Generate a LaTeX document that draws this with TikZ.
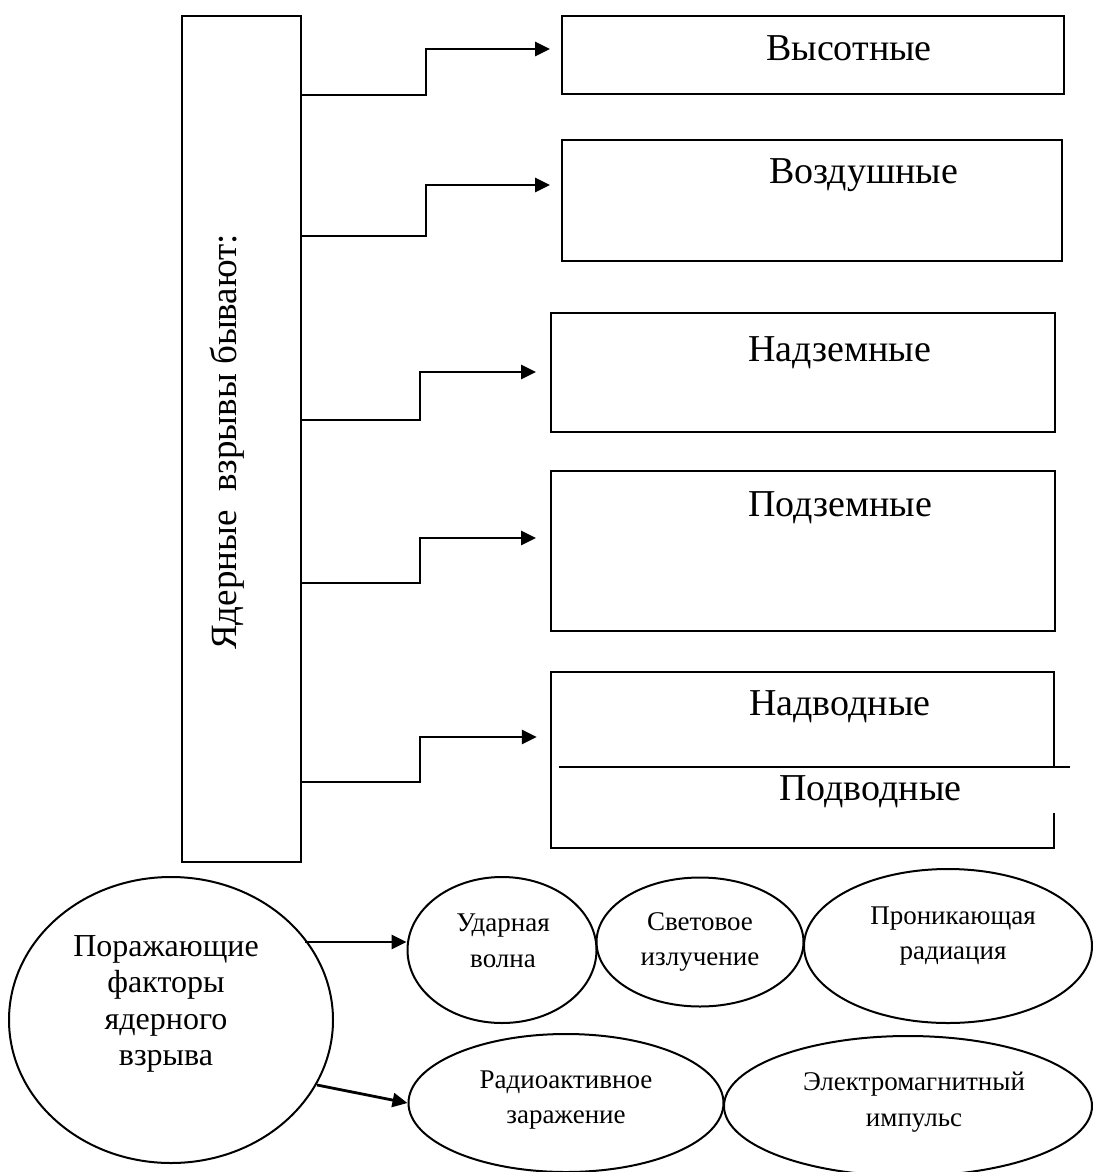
\documentclass[tikz,border=0pt]{standalone}
\usepackage{fontspec}
\setmainfont{Liberation Serif}
\usetikzlibrary{arrows.meta,shapes.geometric,calc}
\begin{document}
\begin{tikzpicture}[x=1pt,y=-1pt,
  boxst/.style={draw, line width=2pt, rectangle, inner sep=0pt},
  ell/.style={draw, line width=2pt, ellipse, inner sep=0pt},
  conn/.style={line width=2.8pt, -{Triangle[length=15pt,width=14pt]}},
  bigtxt/.style={font=\fontsize{38}{42}\selectfont, inner sep=0pt},
  vtxt/.style={font=\fontsize{37}{42}\selectfont, inner sep=0pt},
  midtxt/.style={font=\fontsize{32}{36.5}\selectfont, align=center, inner sep=0pt},
  smalltxt/.style={font=\fontsize{27}{35.5}\selectfont, align=center, inner sep=0pt}]
\useasboundingbox (0,0) rectangle (1092,1172);
% tall box
\node[boxst, minimum width=119pt, minimum height=846pt] (tall) at (241.5,439) {};
\node[vtxt, rotate=90] (ttl) at (227,442) {Ядерные\ \ взрывы бывают:};
% boxes
\node[boxst, minimum width=502pt, minimum height=78pt] (b1) at (813,55) {};
\node[boxst, minimum width=500pt, minimum height=121pt] (b2) at (812,200.5) {};
\node[boxst, minimum width=504pt, minimum height=119pt] (b3) at (803,372.5) {};
\node[boxst, minimum width=504pt, minimum height=160pt] (b4) at (803,551) {};
\node[inner sep=0pt, minimum width=503pt, minimum height=176pt] (b5) at (802.5,760) {};
\draw[line width=2pt] (b5.north east |- 0,767) -- (b5.north east) -- (b5.north west)
  -- (b5.south west) -- (b5.south east) -- (b5.south east |- 0,813);
\draw[line width=2.5pt] ($(b5.west |- 0,767)+(8,0)$) -- ++(511,0);
% box texts
\node[bigtxt, anchor=base west] (t1) at (766,60) {Высотные};
\node[bigtxt, anchor=base west] (t2) at (769,183) {Воздушные};
\node[bigtxt, anchor=base west] (t3) at (748,361) {Надземные};
\node[bigtxt, anchor=base west] (t4) at (748,516) {Подземные};
\node[bigtxt, anchor=base west] (t5) at (749,715) {Надводные};
\node[bigtxt, anchor=base west] (t6) at (779,800) {Подводные};
% connectors
\draw[conn, shorten >=11pt] (tall.east |- 0,95) -| (426,49) -- (b1.west |- 0,49);
\draw[conn, shorten >=11pt] (tall.east |- 0,236) -| (426,185) -- (b2.west |- 0,185);
\draw[conn, shorten >=14pt] (tall.east |- 0,420) -| (420,372) -- (b3.west |- 0,372);
\draw[conn, shorten >=14pt] (tall.east |- 0,583) -| (420,538) -- (b4.west |- 0,538);
\draw[conn, shorten >=14pt] (tall.east |- 0,782) -| (420,737) -- (b5.west |- 0,737);
% ellipses
\node[ell, minimum width=324pt, minimum height=286pt] (big) at (171,1020) {};
\node[midtxt] (bigt) at (166,1004) {Поражающие\\факторы\\ядерного\\взрыва};
\node[ell, minimum width=189pt, minimum height=146pt] (e1) at (502,950) {};
\node[smalltxt] (e1t) at (503,941) {Ударная\\волна};
\node[ell, minimum width=207pt, minimum height=129pt] (e2) at (700,942) {};
\node[smalltxt] (e2t) at (700,942) {Световое\\излучение};
\node[ell, minimum width=288pt, minimum height=154pt] (e3) at (948,946) {};
\node[smalltxt] (e3t) at (953,936) {Проникающая\\радиация};
\node[ell, minimum width=315pt, minimum height=138pt] (e4) at (566,1103) {};
\node[smalltxt] (e4t) at (566,1100) {Радиоактивное\\заражение};
\node[ell, minimum width=368pt, minimum height=140pt] (e5) at (908,1106) {};
\node[smalltxt] (e5t) at (914,1102) {Электромагнитный\\импульс};
% ellipse arrows
\coordinate (p1) at (305,942);
\coordinate (p2) at (317,1085);
\draw[conn] (p1) -- (p1 -| e1.west);
\draw[conn] (p2) -- (e4.west);
\end{tikzpicture}
\end{document}
